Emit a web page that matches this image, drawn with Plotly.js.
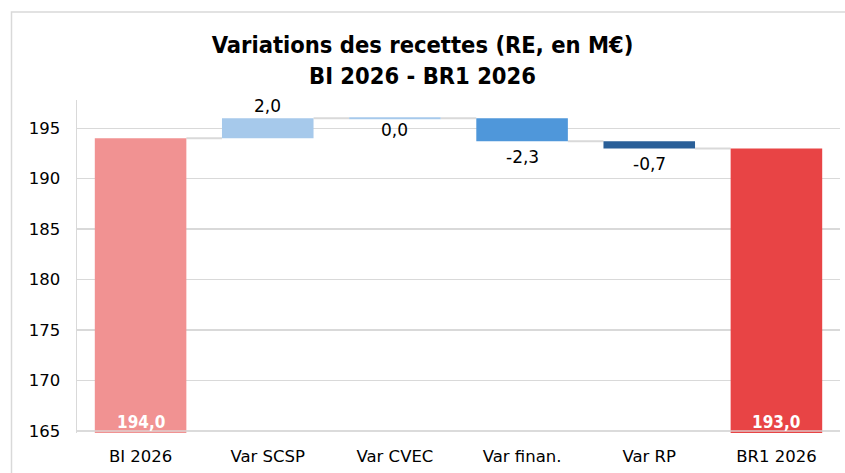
<!DOCTYPE html>
<html>
<head>
<meta charset="utf-8">
<script src="https://cdn.plot.ly/plotly-3.0.1.min.js"></script>
<style>html,body{margin:0;padding:0;background:#fff;}#chart{width:845px;height:473px;}</style>
</head>
<body>
<div id="chart"></div>
<script>
// ---- data ----
const categories = ['BI 2026', 'Var SCSP', 'Var CVEC', 'Var finan.', 'Var RP', 'BR1 2026'];
const values = [194.0, 2.0, 0.0, -2.3, -0.7, 193.0];
const kinds = ['total', 'delta', 'delta', 'delta', 'delta', 'total'];
const barColors = ['#F19292', '#A6C9EB', '#A6C9EB', '#4F97DA', '#2A5F98', '#E84445'];
const yTicks = [165, 170, 175, 180, 185, 190, 195];

// ---- derived ----
const yMin = 164.8, yMax = 197.8, barW = 0.72;
const fmt = v => v.toFixed(1).replace('.', ',');
const bases = [], heights = [], levels = [];
let level = 0;
values.forEach((v, i) => {
  if (kinds[i] === 'total') { bases.push(0); heights.push(v); level = v; }
  else { bases.push(level); heights.push(v); level = level + v; }
  levels.push(level);
});

const trace = {
  type: 'bar', x: categories, y: heights, base: bases,
  marker: { color: barColors, line: { width: 0 } },
  width: barW, hoverinfo: 'skip', cliponaxis: true
};

const shapes = [];
// connectors
for (let i = 0; i < categories.length - 1; i++) {
  shapes.push({ type: 'line', xref: 'x', yref: 'y', x0: i + barW / 2, x1: i + 1 - barW / 2,
    y0: levels[i], y1: levels[i], line: { color: '#D9D9D9', width: 2 }, layer: 'below' });
}
// zero-height deltas as thin lines
values.forEach((v, i) => {
  if (kinds[i] === 'delta' && v === 0) {
    shapes.push({ type: 'line', xref: 'x', yref: 'y', x0: i - barW / 2, x1: i + barW / 2,
      y0: levels[i], y1: levels[i], line: { color: barColors[i], width: 2 } });
  }
});
// baseline over bars
shapes.push({ type: 'line', xref: 'paper', yref: 'y', x0: 0, x1: 1, y0: yTicks[0], y1: yTicks[0],
  line: { color: 'rgba(220,220,220,0.85)', width: 1.5 } });
// chart frame
shapes.push({ type: 'rect', xref: 'paper', yref: 'paper', x0: (11.5 - 77) / 763, x1: 1.3,
  y0: -0.6, y1: (433 - 12) / 333, line: { color: '#D9D9D9', width: 1.5 }, layer: 'below' });

const annotations = [];
values.forEach((v, i) => {
  if (kinds[i] === 'total') {
    annotations.push({ x: categories[i], y: yTicks[0], yanchor: 'bottom', text: fmt(v), showarrow: false,
      font: { family: 'DejaVu Sans Condensed, DejaVu Sans', size: 17, color: '#ffffff', weight: 'bold' }, yshift: -3 });
  } else {
    const top = Math.max(bases[i], bases[i] + v), bot = Math.min(bases[i], bases[i] + v);
    annotations.push({ x: categories[i], y: v > 0 ? top : bot, yanchor: v > 0 ? 'bottom' : 'top',
      text: fmt(v), showarrow: false, yshift: v < 0 ? -4 : 0,
      font: { family: 'DejaVu Sans', size: 17, color: '#000' } });
  }
});

const layout = {
  width: 845, height: 473,
  margin: { l: 77, r: 5, t: 100, b: 40 },
  paper_bgcolor: '#fff', plot_bgcolor: '#fff',
  separators: ', ',
  showlegend: false,
  title: { text: 'Variations des recettes (RE, en M€)<br>BI 2026 - BR1 2026', x: 0.5, xanchor: 'center',
    xref: 'container', yref: 'container', y: 1 - 53 / 473, yanchor: 'top',
    font: { family: 'DejaVu Sans Condensed, DejaVu Sans', size: 23.5, color: '#000', weight: 'bold' } },
  xaxis: { type: 'category', showgrid: false, zeroline: false, showline: false, ticks: '',
    ticklabelstandoff: 11,
    tickfont: { family: 'DejaVu Sans', size: 16.5, color: '#000' }, fixedrange: true },
  yaxis: { range: [yMin, yMax], tickvals: yTicks, ticktext: yTicks.map(String), showgrid: true,
    gridcolor: '#D9D9D9', gridwidth: 1.5, zeroline: false, showline: true, linecolor: '#D9D9D9', linewidth: 1.5,
    ticks: '', ticklabelstandoff: 12, tickfont: { family: 'DejaVu Sans', size: 16.5, color: '#000' }, fixedrange: true },
  shapes: shapes,
  annotations: annotations
};

Plotly.newPlot('chart', [trace], layout, { staticPlot: true, displayModeBar: false });
</script>
</body>
</html>
